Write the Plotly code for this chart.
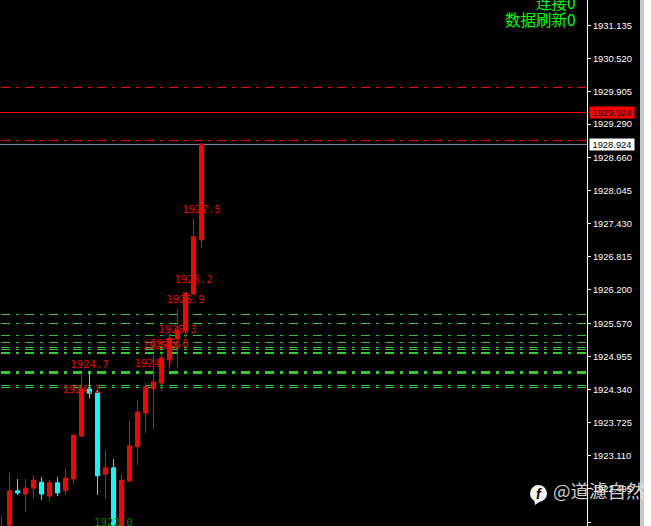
import plotly.graph_objects as go

# index of each candle, 8 px apart on the reference
candle_index = list(range(26))
opens = [1921.70, 1921.81, 1922.45, 1922.39, 1922.50, 1922.61, 1922.35, 1922.60, 1922.45, 1922.67,
         1923.47, 1924.35, 1924.29, 1922.76, 1922.88, 1921.50, 1922.63, 1923.27, 1923.90, 1924.35,
         1924.46, 1924.89, 1925.28, 1925.43, 1926.12, 1927.13]
highs = [1921.96, 1922.78, 1922.67, 1922.67, 1922.74, 1922.71, 1922.65, 1922.71, 1922.88, 1923.49,
         1924.61, 1924.67, 1924.33, 1923.21, 1923.04, 1922.76, 1923.77, 1924.14, 1924.46, 1924.98,
         1925.02, 1925.39, 1925.84, 1926.14, 1927.54, 1928.92]
lows = [1921.60, 1921.81, 1922.37, 1922.05, 1922.30, 1922.28, 1922.26, 1922.35, 1922.37, 1922.56,
        1923.44, 1924.18, 1922.37, 1922.30, 1921.40, 1921.40, 1922.63, 1922.93, 1923.53, 1923.60,
        1924.31, 1924.72, 1924.76, 1925.30, 1926.12, 1926.98]
closes = [1921.75, 1922.45, 1922.41, 1922.50, 1922.65, 1922.39, 1922.60, 1922.41, 1922.69, 1923.49,
          1924.35, 1924.27, 1922.73, 1922.88, 1921.50, 1922.65, 1923.29, 1923.92, 1924.39, 1924.48,
          1924.93, 1925.30, 1925.45, 1926.14, 1927.19, 1928.92]

green_levels = [1925.739, 1925.571, 1925.348, 1925.217, 1925.124, 1925.086, 1925.021, 1924.657, 1924.415, 1924.377]
green_widths = [1, 1, 1, 1, 1, 1, 2, 3, 1, 1]
red_levels = [1929.975, 1928.986]
bid_text = "1929.524"
ask_text = "1928.924"
bid_level = 1929.508
ask_level = 1928.911

label_index = [25, 24, 23, 22, 21, 20, 19, 11, 10]
label_prices = [1927.68, 1926.37, 1926.00, 1925.44, 1925.18, 1925.14, 1924.80, 1924.79, 1924.32]
label_texts = ["1927.5", "1926.2", "1925.9", "1925.3", "1925.0", "1925.0", "1924.7", "1924.7", "1924.2"]
low_label_index = [14]
low_label_prices = [1921.85]
low_label_texts = ["1922.0"]

tick_values = [1931.135, 1930.520, 1929.905, 1929.290, 1928.660, 1928.045, 1927.430, 1926.815, 1926.200,
               1925.570, 1924.955, 1924.340, 1923.725, 1923.110, 1922.495, 1921.865]
tick_labels = ["%.3f" % v for v in tick_values]

W, H = 651, 526
PLOT_RIGHT = 587
fig = go.Figure()

DASHDOT = "9px,6px,3px,6px"
for lvl, w in zip(green_levels, green_widths):
    fig.add_shape(type="line", xref="x domain", x0=1 / PLOT_RIGHT, x1=1, yref="y", y0=lvl, y1=lvl,
                  line=dict(color="#33cc33", width=w, dash=DASHDOT), layer="below")
for lvl in red_levels:
    fig.add_shape(type="line", xref="x domain", x0=1 / PLOT_RIGHT, x1=1, yref="y", y0=lvl, y1=lvl,
                  line=dict(color="#ff0000", width=1, dash=DASHDOT), layer="below")
fig.add_shape(type="line", xref="x domain", x0=0, x1=1, yref="y", y0=bid_level, y1=bid_level,
              line=dict(color="#ff0000", width=1), layer="below")
fig.add_shape(type="line", xref="x domain", x0=0, x1=1, yref="y", y0=ask_level, y1=ask_level,
              line=dict(color="#778899", width=1), layer="below")

fig.add_trace(go.Candlestick(
    x=candle_index, open=opens, high=highs, low=lows, close=closes,
    increasing=dict(line=dict(color="#ff0000", width=1), fillcolor="#ff0000"),
    decreasing=dict(line=dict(color="#00ffff", width=1), fillcolor="#00ffff"),
    whiskerwidth=0, showlegend=False, hoverinfo="skip"))

mono = "DejaVu Sans Mono, monospace"
fig.add_trace(go.Scatter(x=label_index, y=label_prices, text=label_texts, mode="text",
                         textposition="middle center", cliponaxis=False,
                         textfont=dict(family=mono, size=10.6, color="#e80000"),
                         showlegend=False, hoverinfo="skip"))
fig.add_trace(go.Scatter(x=low_label_index, y=low_label_prices, text=low_label_texts, mode="text",
                         textposition="middle center", cliponaxis=False,
                         textfont=dict(family=mono, size=10.6, color="#008000"),
                         showlegend=False, hoverinfo="skip"))

# price boxes in the axis strip
for level, txt, bg in [(bid_level, bid_text, "#ff0000"), (ask_level, ask_text, "#ffffff")]:
    fig.add_annotation(xref="paper", x=612 / PLOT_RIGHT, yref="y", y=level, text=txt,
                       showarrow=False, bgcolor=bg, xanchor="center", yanchor="middle",
                       width=44, height=11, borderpad=0,
                       font=dict(family="Liberation Sans", size=9.4, color="#000000"))

cjk = "Noto Sans CJK SC"
fig.add_annotation(xref="paper", yref="paper", x=578 / PLOT_RIGHT, y=1 - 2 / H, text="连接0", showarrow=False,
                   xanchor="right", yanchor="middle", font=dict(family=cjk, size=15.5, color="#00ff00"))
fig.add_annotation(xref="paper", yref="paper", x=578 / PLOT_RIGHT, y=1 - 19.5 / H, text="数据刷新0", showarrow=False,
                   xanchor="right", yanchor="middle", font=dict(family=cjk, size=15.5, color="#00ff00"))

# watermark: round badge with a small tail, then the handle
fig.add_shape(type="circle", xref="paper", yref="paper", x0=530 / PLOT_RIGHT, x1=547 / PLOT_RIGHT,
              y0=1 - 502 / H, y1=1 - 485 / H, fillcolor="#f4f4f4", line=dict(width=0), layer="above")
fig.add_shape(type="path", xref="paper", yref="paper",
              path="M %.5f %.5f L %.5f %.5f L %.5f %.5f Z" % (534 / PLOT_RIGHT, 1 - 498 / H, 542 / PLOT_RIGHT, 1 - 500 / H,
                                                           535 / PLOT_RIGHT, 1 - 505 / H),
              fillcolor="#f4f4f4", line=dict(width=0), layer="above")
fig.add_annotation(xref="paper", yref="paper", x=539 / PLOT_RIGHT, y=1 - 494 / H, text="<b><i>f</i></b>", showarrow=False,
                   xanchor="center", yanchor="middle",
                   font=dict(family="Liberation Sans", size=14, color="#000000"))
fig.add_annotation(xref="paper", yref="paper", x=551 / PLOT_RIGHT, y=1 - 490 / H, text="@道濾自然",
                   showarrow=False, xanchor="left", yanchor="middle",
                   font=dict(family=cjk, size=18.5, color="rgba(235,235,235,0.88)"))

# grey window edge at the far right
fig.add_shape(type="rect", xref="paper", yref="paper", x0=640 / PLOT_RIGHT, x1=644 / PLOT_RIGHT, y0=0, y1=1,
              fillcolor="#c8c8c8", line=dict(width=0), layer="above")
fig.add_shape(type="rect", xref="paper", yref="paper", x0=644 / PLOT_RIGHT, x1=651 / PLOT_RIGHT, y0=0, y1=1,
              fillcolor="#ffffff", line=dict(width=0), layer="above")

fig.update_layout(
    width=W, height=H, margin=dict(l=0, r=W - PLOT_RIGHT, t=0, b=0),
    paper_bgcolor="#000000", plot_bgcolor="#000000", boxgap=0.5, boxgroupgap=0,
    showlegend=False, hovermode=False,
    xaxis=dict(range=[-0.1875, 73.19], visible=False, rangeslider=dict(visible=False), fixedrange=True),
    yaxis=dict(range=[1921.793, 1931.607], side="right", tickmode="array", tickvals=tick_values, ticktext=tick_labels,
               showgrid=False, zeroline=False, showline=True, linecolor="#ffffff", linewidth=1,
               ticks="outside", ticklen=3, tickcolor="#ffffff", tickwidth=1,
               tickfont=dict(family="Liberation Sans", size=9.4, color="#ffffff"), fixedrange=True),
)

fig.write_html("out.html", config=dict(displayModeBar=False), post_script="document.body.style.margin='0';")
